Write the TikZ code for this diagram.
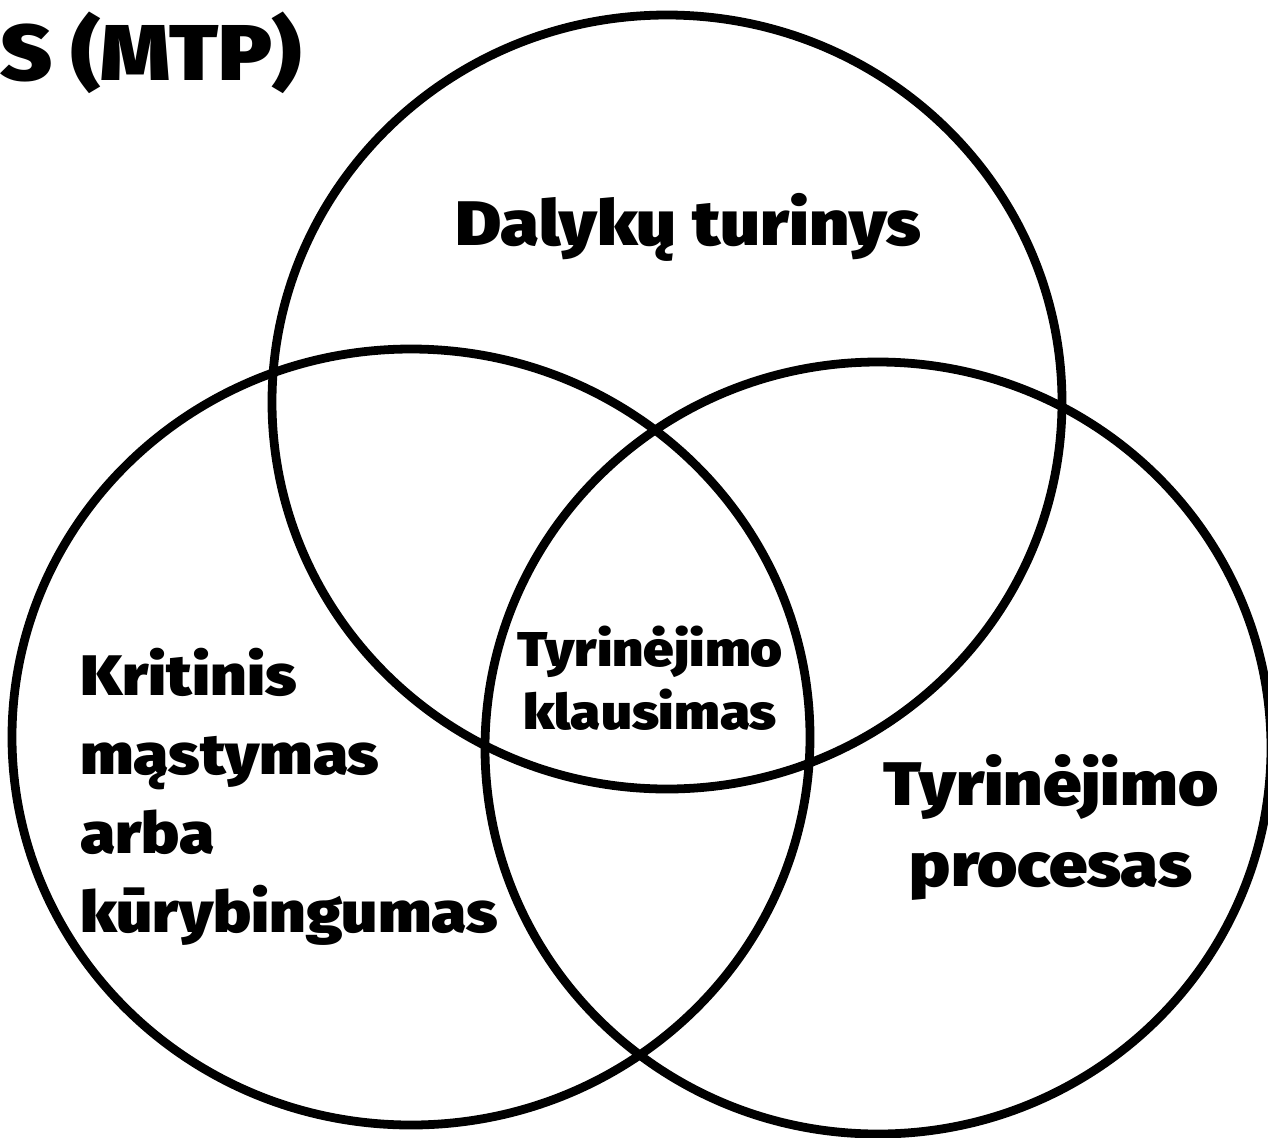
\documentclass[tikz,border=0pt]{standalone}
\usepackage{fontspec}
\setmainfont{Fira Sans}[UprightFont=* Black, FakeStretch=1.12]
\usepackage{tikz}
\usetikzlibrary{positioning}

\begin{document}
\begin{tikzpicture}[
    x=0.02cm, y=-0.02cm,
    set/.style={
		line width=5pt,
		draw=black
	},
	label/.style={
		text=black,
		inner sep=0pt
	}
  ]
  \useasboundingbox (0,0) rectangle (1268,1137);
    % We start by placing the three sets

  \draw [set] (667,402) ellipse [x radius=395, y radius=387];
  \draw [set] (411,737) ellipse [x radius=399, y radius=388];
  \draw [set] (878,748) ellipse [x radius=393, y radius=386];

    % then the labels

  \node [label, anchor=base west, font=\fontsize{45}{50}\selectfont] (title) at (0,80) {S (MTP)};

  \node [label, anchor=base, font=\fontsize{35.8}{40}\selectfont] (content) at (688,245) {Dalykų turinys};

  \node [label, anchor=north west, align=left, font=\fontsize{32.5}{45}\selectfont] (critical) at (80,648)
 {%
  Kritinis\\
  mąstymas\\
  arba\\
  kūrybingumas
 };

  \node [label, anchor=north, align=center, font=\fontsize{27.8}{35.7}\selectfont] (question) at (650,626)
 {%
  Tyrinėjimo\\
  klausimas
 };

  \node [label, anchor=north, align=center, font=\fontsize{35}{46}\selectfont] (process) at (1051,754)
 {%
  Tyrinėjimo\\
  procesas
 };

\end{tikzpicture}
\end{document}
